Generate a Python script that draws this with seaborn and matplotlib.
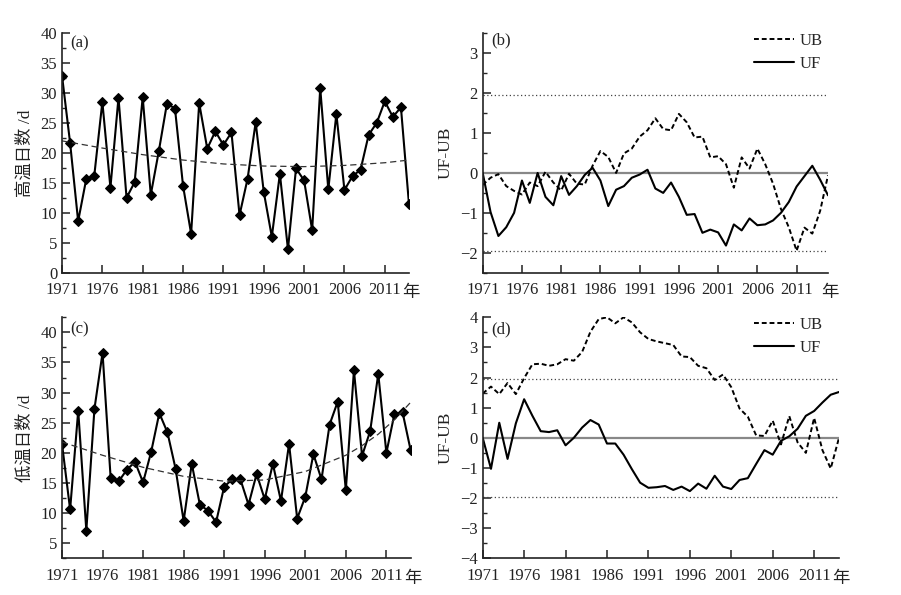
import numpy as np
import pandas as pd
import matplotlib
matplotlib.use("Agg")
import matplotlib.pyplot as plt
from matplotlib.ticker import MultipleLocator
import seaborn as sns

# ---- data ----
years = np.arange(1971, 2015)          # panels (a), (c), (d)
years_mk_hot = np.arange(1971, 2016)   # panel (b)

hot_days = [32.9, 21.7, 8.6, 15.6, 16.2, 28.5, 14.2, 29.2, 12.5, 15.1,
            29.3, 13.0, 20.3, 28.2, 27.4, 14.5, 6.5, 28.3, 20.7, 23.6,
            21.3, 23.4, 9.6, 15.7, 25.1, 13.5, 6.0, 16.5, 3.9, 17.4,
            15.4, 7.1, 30.8, 13.9, 26.5, 13.8, 16.1, 17.2, 23.0, 25.0,
            28.6, 26.0, 27.6, 11.4]

cold_days = [21.5, 10.6, 27.0, 7.1, 27.3, 36.6, 15.8, 15.3, 17.2, 18.5,
             15.1, 20.2, 26.6, 23.4, 17.4, 8.7, 18.2, 11.4, 10.4, 8.5,
             14.4, 15.6, 15.6, 11.4, 16.5, 12.3, 18.2, 12.0, 21.5, 9.1,
             12.7, 19.8, 15.6, 24.7, 28.5, 13.8, 33.7, 19.5, 23.6, 33.1,
             20.0, 26.5, 26.7, 20.4]

# dashed trend curves, read at a few years
trend_hot_years = [1971, 1976, 1981, 1986, 1991, 1996, 2001, 2006, 2011, 2014]
trend_hot = [22.0, 20.8, 19.7, 18.8, 18.15, 17.8, 17.7, 17.9, 18.35, 18.8]
trend_cold_years = [1971, 1976, 1981, 1986, 1991, 1996, 2001, 2006, 2008, 2010, 2012, 2014]
trend_cold = [21.8, 19.6, 17.6, 16.1, 15.3, 15.5, 16.9, 19.6, 21.2, 23.1, 25.5, 28.4]

uf_hot = [0.0, -0.98, -1.58, -1.36, -1.0, -0.19, -0.75, 0.0, -0.6, -0.81,
          -0.08, -0.55, -0.33, -0.05, 0.13, -0.19, -0.83, -0.42, -0.33, -0.12,
          -0.04, 0.08, -0.39, -0.5, -0.24, -0.6, -1.05, -1.03, -1.5, -1.42,
          -1.49, -1.82, -1.29, -1.44, -1.14, -1.31, -1.29, -1.19, -1.0, -0.73,
          -0.34, -0.08, 0.18, -0.17, -0.56]

ub_hot = [-0.3, -0.12, -0.03, -0.33, -0.45, -0.54, -0.24, -0.33, 0.03, -0.24,
          -0.44, -0.02, -0.27, -0.29, 0.18, 0.55, 0.4, 0.0, 0.49, 0.61,
          0.91, 1.07, 1.37, 1.10, 1.07, 1.48, 1.27, 0.89, 0.91, 0.39,
          0.42, 0.22, -0.37, 0.39, 0.11, 0.61, 0.22, -0.27, -0.9, -1.36,
          -1.95, -1.37, -1.52, -0.95, -0.06]

uf_cold = [0.0, -1.03, 0.5, -0.7, 0.48, 1.28, 0.73, 0.22, 0.19, 0.25,
           -0.25, 0.0, 0.34, 0.59, 0.44, -0.19, -0.19, -0.56, -1.04, -1.49,
           -1.66, -1.64, -1.6, -1.73, -1.62, -1.77, -1.52, -1.69, -1.26, -1.62,
           -1.70, -1.40, -1.34, -0.87, -0.41, -0.56, -0.1, 0.05, 0.3, 0.73,
           0.89, 1.17, 1.43, 1.52]

ub_cold = [1.47, 1.70, 1.45, 1.82, 1.45, 1.98, 2.44, 2.46, 2.39, 2.44,
           2.61, 2.56, 2.85, 3.52, 3.94, 4.0, 3.8, 4.0, 3.83, 3.5,
           3.28, 3.2, 3.14, 3.08, 2.7, 2.68, 2.39, 2.31, 1.92, 2.1,
           1.68, 0.97, 0.7, 0.08, 0.06, 0.57, -0.22, 0.72, -0.15, -0.5,
           0.66, -0.41, -1.02, 0.0]

x_ticks = list(range(1971, 2012, 5))
crit = 1.96

sns.set_style("ticks")
plt.rcParams['font.family'] = ['Liberation Serif', 'Noto Sans CJK SC']
plt.rcParams['axes.unicode_minus'] = True
plt.rcParams['axes.linewidth'] = 1.2
plt.rcParams['axes.edgecolor'] = '#222222'

fig = plt.figure(figsize=(9.01, 5.95), dpi=100)
W, H = 901, 595


def add_axes(left, right, top, bottom):
    return fig.add_axes([left / W, (H - bottom) / H, (right - left) / W, (bottom - top) / H])


ax_a = add_axes(62, 409, 33, 272.7)
ax_b = add_axes(482.7, 828, 33.3, 272.7)
ax_c = add_axes(62, 410.7, 317.3, 558.3)
ax_d = add_axes(482.7, 839, 317.3, 558.3)


def style_axes(ax, xmax, ylim, major, minor, tag, tag_y):
    sns.despine(ax=ax)
    ax.set_xlim(1971, xmax)
    ax.set_ylim(*ylim)
    ax.set_xticks(x_ticks)
    ax.set_xticklabels([str(t) for t in x_ticks])
    ax.yaxis.set_major_locator(MultipleLocator(major))
    ax.yaxis.set_minor_locator(MultipleLocator(minor))
    ax.tick_params(axis='both', which='major', direction='in', length=6, width=1.1,
                   labelsize=12, colors='#222222')
    ax.tick_params(axis='x', which='major', pad=7)
    ax.tick_params(axis='y', which='minor', direction='in', length=3, width=1.0)
    ax.text(1.005, -0.043, '年', transform=ax.transAxes, ha='center', va='top',
            fontsize=12.5, color='#222222', family=['Noto Sans CJK SC'])
    ax.text(0.025, tag_y, tag, transform=ax.transAxes, ha='left', va='center',
            fontsize=12, color='#222222')


def days_panel(ax, values, t_years, t_values, ylabel):
    sns.lineplot(x=years, y=values, ax=ax, color='black', lw=1.5, clip_on=True,
                 marker='D', markersize=5, markeredgecolor='black')
    sns.lineplot(x=t_years, y=t_values, ax=ax, color='#333333', lw=0.9,
                 ls=(0, (5, 3)))
    ax.set_xlabel('')
    ax.set_ylabel(ylabel, fontsize=12.5, labelpad=5, color='#222222')


def mk_panel(ax, x, ub, uf, legend_anchor):
    ax.axhline(0, color='#888888', lw=1.6, zorder=1)
    ax.axhline(crit, color='#444444', lw=0.9, ls=(0, (1, 2)), zorder=1)
    ax.axhline(-crit, color='#444444', lw=0.9, ls=(0, (1, 2)), zorder=1)
    sns.lineplot(x=x, y=ub, ax=ax, color='black', lw=1.4, ls=(0, (2.5, 1.5)), label='UB')
    sns.lineplot(x=x, y=uf, ax=ax, color='black', lw=1.5, label='UF')
    ax.legend(frameon=False, fontsize=12, loc='upper right', bbox_to_anchor=legend_anchor,
              bbox_transform=fig.transFigure, handlelength=2.4, handletextpad=0.3,
              labelspacing=0.45, borderaxespad=0)
    ax.set_xlabel('')
    ax.set_ylabel('UF-UB', fontsize=12.5, labelpad=5, color='#222222')


# (a) hot days
days_panel(ax_a, hot_days, trend_hot_years, trend_hot, '高温日数 /d')
style_axes(ax_a, 2014, (0, 40), 5, 2.5, '(a)', 0.958)

# (b) MK test for hot days
mk_panel(ax_b, years_mk_hot, ub_hot, uf_hot, (829 / W, (H - 26) / H))
style_axes(ax_b, 2015, (-2.5, 3.5), 1, 0.5, '(b)', 0.969)

# (c) cold days
days_panel(ax_c, cold_days, trend_cold_years, trend_cold, '低温日数 /d')
style_axes(ax_c, 2014, (2.5, 42.5), 5, 2.5, '(c)', 0.951)

# (d) MK test for cold days
mk_panel(ax_d, years, ub_cold, uf_cold, (829 / W, (H - 310) / H))
style_axes(ax_d, 2014, (-4, 4), 1, 0.5, '(d)', 0.95)

fig.savefig('out.png', dpi=100, facecolor='white')
